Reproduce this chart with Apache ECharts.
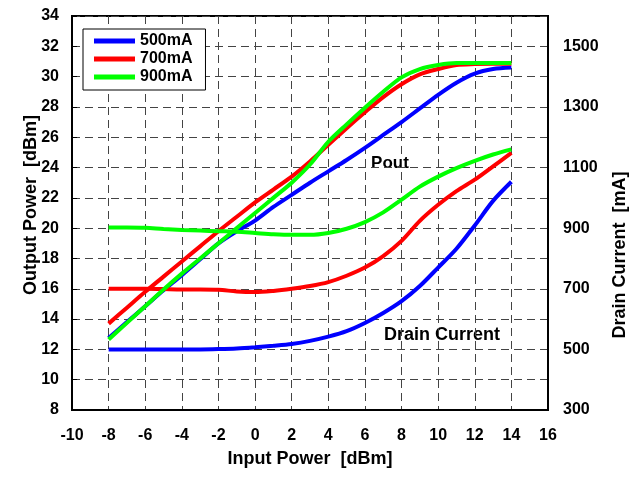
<!DOCTYPE html>
<html>
<head>
<meta charset="utf-8">
<script src="https://cdn.jsdelivr.net/npm/echarts@6/dist/echarts.min.js"></script>
<style>html,body{margin:0;padding:0;background:#fff}#c{width:637px;height:481px}</style>
</head>
<body>
<div id="c"></div>
<script>
const inputPower = [-8,-7,-6,-5,-4,-3,-2,-1,0,1,2,3,4,5,6,7,8,9,10,11,12,13,14];
const seriesNames = ['500mA','700mA','900mA'];
const pout500 = [12.75,13.8,14.85,15.9,16.9,17.95,19.0,19.8,20.5,21.4,22.2,23.0,23.75,24.5,25.3,26.15,27.0,27.9,28.8,29.6,30.2,30.5,30.6];
const pout700 = [13.7,14.75,15.8,16.8,17.8,18.8,19.8,20.75,21.7,22.55,23.4,24.4,25.5,26.6,27.65,28.65,29.5,30.15,30.5,30.77,30.83,30.85,30.85];
const pout900 = [12.65,13.75,14.85,15.95,17.0,18.0,19.0,20.0,21.0,22.0,23.0,24.2,25.7,26.85,27.95,29.0,29.95,30.5,30.77,30.9,30.9,30.9,30.9];
const id500 = [500,500,500,500,500,500,501,503,507,512,518,528,542,560,587,620,659,709,770,832,909,990,1053];
const id700 = [700,700,700,699,698,698,697,691,689,693,700,709,722,743,770,808,858,924,977,1022,1060,1104,1148];
const id900 = [902,902,901,897,894,892,890,888,884,880,878,878,884,898,920,952,994,1037,1070,1098,1122,1143,1160];
const colors = ['#0000FF','#FF0000','#00FF00'];

const pair = arr => inputPower.map((x,i)=>[x,arr[i]]);
const font = 'Arial, "Liberation Sans", sans-serif';
const pouts = [pout500,pout700,pout900];
const ids = [id500,id700,id900];
const series = [];
for (let k=0;k<3;k++){
  series.push({name:seriesNames[k],type:'line',yAxisIndex:0,data:pair(pouts[k]),symbol:'none',smooth:0.3,
    lineStyle:{color:colors[k],width:4},itemStyle:{color:colors[k]},z:2+k});
}
for (let k=0;k<3;k++){
  series.push({name:seriesNames[k],type:'line',yAxisIndex:1,data:pair(ids[k]),symbol:'none',smooth:0.3,
    lineStyle:{color:colors[k],width:4},itemStyle:{color:colors[k]},z:2+k});
}
const chart = echarts.init(document.getElementById('c'),null,{renderer:'canvas'});
chart.setOption({
  animation:false,
  backgroundColor:'#fff',
  textStyle:{fontFamily:font},
  grid:{left:72,right:89,top:16,bottom:71,show:true,borderColor:'#000',borderWidth:2,backgroundColor:'transparent'},
  legend:{data:seriesNames.map(n=>({name:n,icon:'path://M0,0H41V5H0Z'})),orient:'vertical',left:83,top:29,itemWidth:41,itemHeight:14,itemGap:2,
    padding:[4,13,5,11],backgroundColor:'#fff',borderColor:'#000',borderWidth:1,
    itemStyle:{borderWidth:0},lineStyle:{width:0,opacity:0},
    textStyle:{fontFamily:font,fontWeight:'bold',fontSize:16,color:'#000'}},
  xAxis:{type:'value',min:-10,max:16,interval:2,
    axisLine:{onZero:false,lineStyle:{color:'#000',width:2}},axisTick:{show:false},
    axisLabel:{margin:18,fontFamily:font,fontWeight:'bold',fontSize:16,color:'#000'},
    splitLine:{show:true,lineStyle:{color:'#444',type:[8,5],width:1}}},
  yAxis:[
    {type:'value',min:8,max:34,interval:2,position:'left',
     axisLine:{show:true,onZero:false,lineStyle:{color:'#000',width:2}},axisTick:{show:true,inside:true,length:5,lineStyle:{color:'#000'}},
     axisLabel:{margin:13,fontFamily:font,fontWeight:'bold',fontSize:16,color:'#000',padding:[8,0,0,0]},
     splitLine:{show:true,lineStyle:{color:'#444',type:[8,5],width:1}}},
    {type:'value',min:300,max:1600,interval:200,position:'right',
     axisLine:{show:true,onZero:false,lineStyle:{color:'#000',width:2}},axisTick:{show:false},
     axisLabel:{margin:15,fontFamily:font,fontWeight:'bold',fontSize:16,color:'#000',
       formatter:v=> v>1500 ? '' : String(v)},
     splitLine:{show:false}}
  ],
  graphic:[
    {type:'text',x:31,y:205,rotation:Math.PI/2,style:{text:'Output Power  [dBm]',font:'bold 18px '+font,fill:'#000',textAlign:'center',textVerticalAlign:'middle'}},
    {type:'text',x:620,y:255,rotation:Math.PI/2,style:{text:'Drain Current  [mA]',font:'bold 18px '+font,fill:'#000',textAlign:'center',textVerticalAlign:'middle'}},
    {type:'text',x:310,y:459,style:{text:'Input Power  [dBm]',font:'bold 18px '+font,fill:'#000',textAlign:'center',textVerticalAlign:'middle'}},
    {type:'text',x:390,y:163,style:{text:'Pout',font:'bold 17px '+font,fill:'#000',textAlign:'center',textVerticalAlign:'middle'}},
    {type:'text',x:442,y:335,style:{text:'Drain Current',font:'bold 18px '+font,fill:'#000',textAlign:'center',textVerticalAlign:'middle'}}
  ],
  series:series
});
</script>
</body>
</html>
